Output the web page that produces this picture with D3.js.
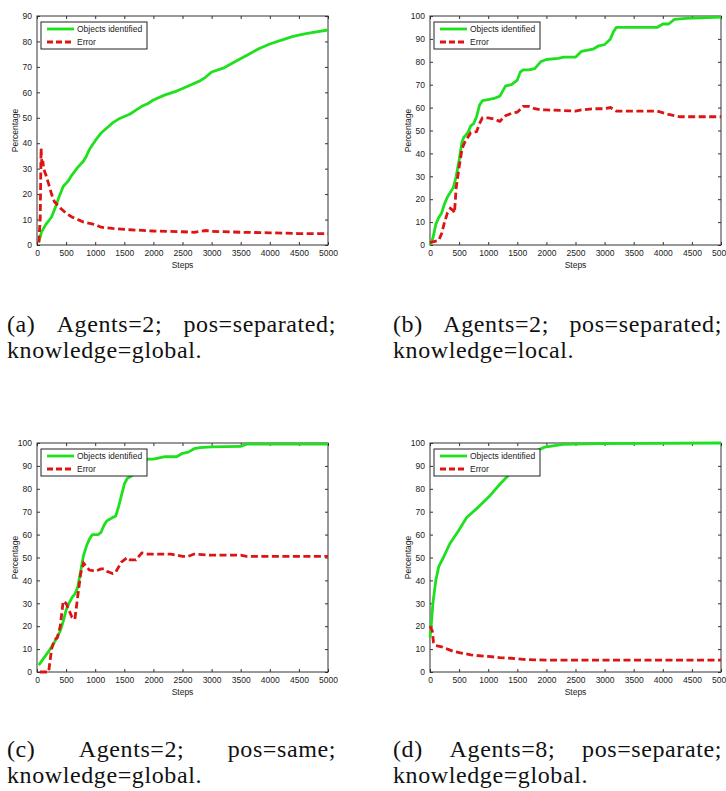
<!DOCTYPE html>
<html>
<head>
<meta charset="utf-8">
<script src="https://cdn.jsdelivr.net/npm/d3@7/dist/d3.min.js"></script>
<style>
  body { margin: 0; background: #fff; }
</style>
</head>
<body>
<div id="fig"></div>
<script>
// ---- data ----
const xTickValues = [0, 500, 1000, 1500, 2000, 2500, 3000, 3500, 4000, 4500, 5000];
const yTicks90 = [0, 10, 20, 30, 40, 50, 60, 70, 80, 90];
const yTicks100 = [0, 10, 20, 30, 40, 50, 60, 70, 80, 90, 100];
const seriesNames = ["Objects identified", "Error"];

// (a)
const aFoundSteps = [30, 75, 150, 250, 320, 380, 450, 530, 600, 700, 800, 850, 900, 1000, 1100, 1200, 1300, 1400, 1500, 1600, 1700, 1800, 1900, 2000, 2200, 2400, 2600, 2800, 2900, 3000, 3200, 3400, 3600, 3800, 4000, 4200, 4400, 4600, 4800, 5000];
const aFound = [1, 5, 8, 11, 15, 19, 23, 25, 27.5, 30.5, 33, 35, 37.5, 41, 44, 46, 48, 49.5, 50.5, 51.5, 53, 54.5, 55.5, 57, 59, 60.5, 62.5, 64.5, 66, 68, 69.5, 72, 74.5, 77, 79, 80.5, 82, 83, 83.8, 84.5];
const aErrSteps = [30, 55, 70, 85, 100, 115, 130, 160, 200, 250, 300, 400, 500, 600, 700, 800, 1000, 1100, 1300, 1600, 2000, 2500, 2700, 2900, 3000, 3500, 4000, 4500, 5000];
const aErr = [1, 10, 38, 31, 33, 30, 29, 27, 24, 20, 17, 14.5, 12.5, 11, 10, 9, 8, 7, 6.5, 6, 5.5, 5.2, 5, 5.7, 5.4, 5, 4.8, 4.5, 4.5];

// (b)
const bFoundSteps = [0, 50, 100, 150, 200, 250, 300, 350, 400, 450, 500, 550, 580, 650, 700, 750, 800, 850, 900, 1000, 1100, 1200, 1300, 1400, 1500, 1550, 1600, 1700, 1800, 1900, 2000, 2200, 2300, 2500, 2600, 2800, 2900, 3000, 3100, 3150, 3200, 3900, 4000, 4100, 4200, 4400, 5000];
const bFound = [0, 3, 9, 12, 14, 18, 21, 23, 25, 30, 37, 45, 47, 49, 52, 53, 56, 61, 63, 63.5, 64, 65, 69.5, 70, 72, 75.5, 76.5, 76.5, 77, 80, 81, 81.5, 82, 82, 84.5, 85.5, 87, 87.5, 90, 93, 95, 95, 96.5, 96.5, 98.5, 99, 99.5];
const bErrSteps = [0, 150, 200, 250, 300, 350, 400, 420, 450, 500, 550, 600, 700, 800, 850, 900, 1000, 1100, 1200, 1300, 1400, 1500, 1600, 1700, 1800, 1900, 2000, 2500, 2600, 2800, 3000, 3100, 3200, 3900, 4100, 4300, 5000];
const bErr = [1, 2, 5, 10, 14, 16, 15, 14, 25, 34, 42, 45, 49, 49.5, 53, 55.5, 55.5, 55, 54, 56.5, 57.5, 58, 60.5, 60.5, 59.5, 59, 59, 58.5, 59, 59.5, 59.5, 60, 58.5, 58.5, 57, 56, 56];

// (c)
const cFoundSteps = [30, 200, 300, 400, 450, 500, 550, 600, 650, 700, 750, 800, 850, 900, 950, 1050, 1100, 1150, 1200, 1300, 1350, 1400, 1450, 1500, 1550, 1650, 1700, 1800, 1900, 2000, 2100, 2200, 2400, 2500, 2600, 2700, 2800, 3000, 3500, 3600, 5000];
const cFound = [3, 9, 13, 18, 22, 27, 30, 32.5, 34, 37, 44, 51, 55, 58, 60, 60, 61, 64, 66, 67.5, 68, 72, 77, 82, 84.5, 86, 88, 91, 93, 93, 93.5, 94, 94, 95.5, 96, 97.5, 98, 98.3, 98.5, 99.5, 99.5];
const cErrSteps = [50, 200, 250, 300, 350, 400, 450, 500, 550, 600, 650, 700, 750, 800, 850, 900, 1000, 1100, 1150, 1200, 1300, 1350, 1450, 1550, 1600, 1700, 1800, 1900, 2000, 2300, 2500, 2600, 2700, 3000, 3500, 3600, 5000];
const cErr = [0, 0, 10, 14, 15, 20, 31, 30, 27, 24, 23, 33, 43, 47.5, 46, 44.5, 44, 45, 45, 44, 43, 43.5, 48, 50, 49, 49, 52, 51.5, 51.5, 51.5, 50.5, 50.5, 51.5, 51, 51, 50.5, 50.5];

// (d)
const dFoundSteps = [0, 20, 50, 100, 150, 230, 340, 490, 630, 830, 1030, 1200, 1370, 1550, 1720, 1970, 2290, 2860, 5000];
const dFound = [15, 20, 30, 40, 46, 50, 56, 61.7, 67.5, 72, 77, 82, 86.5, 91.7, 95.3, 98.2, 99.4, 99.7, 100];
const dErrSteps = [0, 40, 60, 100, 200, 300, 400, 500, 600, 700, 800, 1000, 1200, 1400, 1600, 1800, 2000, 5000];
const dErr = [20, 18, 13, 11.5, 11, 10, 9, 8.5, 8, 7.5, 7.2, 6.8, 6.3, 6, 5.5, 5.3, 5.2, 5.2];

const captionLines = [
  ["(a) Agents=2; pos=separated;", "knowledge=global."],
  ["(b) Agents=2; pos=separated;", "knowledge=local."],
  ["(c) Agents=2; pos=same;", "knowledge=global."],
  ["(d) Agents=8; pos=separate;", "knowledge=global."]
];

// ---- drawing ----
const W = 726, H = 791;
const svg = d3.select("#fig").append("svg").attr("width", W).attr("height", H);

const green = "#1ee01e";
const red = "#dc1414";
const axisColor = "#333";
const tickFont = "'Liberation Sans', Arial, sans-serif";

const panels = [
  { left: 37, top: 16, found: [aFoundSteps, aFound], err: [aErrSteps, aErr], yMax: 90, yTicks: yTicks90 },
  { left: 430, top: 16, found: [bFoundSteps, bFound], err: [bErrSteps, bErr], yMax: 100, yTicks: yTicks100 },
  { left: 37, top: 443, found: [cFoundSteps, cFound], err: [cErrSteps, cErr], yMax: 100, yTicks: yTicks100 },
  { left: 430, top: 443, found: [dFoundSteps, dFound], err: [dErrSteps, dErr], yMax: 100, yTicks: yTicks100 }
];
const pw = 291, ph = 229;

function zip(steps, vals) {
  return steps.map((s, i) => ({ step: s, value: vals[i] }));
}

panels.forEach((p, idx) => {
  const g = svg.append("g").attr("transform", `translate(${p.left},${p.top})`);
  const x = d3.scaleLinear().domain([0, 5000]).range([0, pw]);
  const y = d3.scaleLinear().domain([0, p.yMax]).range([ph, 0]);

  // axes, matlab style: ticks pointing in on all four sides
  const styleAxis = sel => {
    sel.select(".domain").remove();
    sel.selectAll("line").attr("stroke", axisColor);
    sel.selectAll("text").attr("fill", "#222").style("font-family", tickFont).style("font-size", "8.5px");
  };
  g.append("g").attr("transform", `translate(0,${ph})`)
    .call(d3.axisBottom(x).tickValues(xTickValues).tickSize(-3).tickPadding(5).tickFormat(d3.format("d")))
    .call(styleAxis);
  g.append("g")
    .call(d3.axisTop(x).tickValues(xTickValues).tickSize(-3).tickFormat(""))
    .call(styleAxis);
  g.append("g")
    .call(d3.axisLeft(y).tickValues(p.yTicks).tickSize(-3).tickPadding(5).tickFormat(d3.format("d")))
    .call(styleAxis);
  g.append("g").attr("transform", `translate(${pw},0)`)
    .call(d3.axisRight(y).tickValues(p.yTicks).tickSize(-3).tickFormat(""))
    .call(styleAxis);

  g.append("rect").attr("width", pw).attr("height", ph)
    .attr("fill", "none").attr("stroke", axisColor).attr("stroke-width", 1);

  const line = d3.line().x(d => x(d.step)).y(d => y(d.value));

  g.append("path").datum(zip(...p.found))
    .attr("d", line).attr("fill", "none")
    .attr("stroke", green).attr("stroke-width", 2.8).attr("stroke-linejoin", "round");
  g.append("path").datum(zip(...p.err))
    .attr("d", line).attr("fill", "none")
    .attr("stroke", red).attr("stroke-width", 2.8).attr("stroke-dasharray", "7,3.5");

  // axis titles
  g.append("text").attr("x", pw / 2).attr("y", ph + 23)
    .attr("text-anchor", "middle").attr("fill", "#222")
    .style("font-family", tickFont).style("font-size", "8.5px").text("Steps");
  g.append("text").attr("transform", `translate(-19,${ph / 2}) rotate(-90)`)
    .attr("text-anchor", "middle").attr("fill", "#222")
    .style("font-family", tickFont).style("font-size", "8.5px").text("Percentage");

  // legend
  const lg = g.append("g").attr("transform", "translate(4,6)");
  lg.append("rect").attr("width", 106).attr("height", 27)
    .attr("fill", "#fff").attr("stroke", "#222").attr("stroke-width", 1);
  seriesNames.forEach((name, i) => {
    const ly = 7 + i * 13;
    lg.append("line").attr("x1", 6).attr("x2", 33).attr("y1", ly).attr("y2", ly)
      .attr("stroke", i === 0 ? green : red).attr("stroke-width", 2.8)
      .attr("stroke-dasharray", i === 0 ? null : "6,3");
    lg.append("text").attr("x", 36).attr("y", ly + 3).attr("fill", "#222")
      .style("font-family", tickFont).style("font-size", "8.5px").text(name);
  });
});

// captions, first line justified like the LaTeX source
const capFont = "'Liberation Serif', 'DejaVu Serif', serif";
const capSize = "24px";
const capSpacing = "0.6px";
const capWidth = 329;
const capPos = [[7, 332], [393, 332], [7, 757], [393, 757]];

function capText(sel) {
  return sel.attr("fill", "#111")
    .style("font-family", capFont).style("font-size", capSize).style("letter-spacing", capSpacing);
}

captionLines.forEach((lines, i) => {
  const [cx, cy] = capPos[i];
  const words = lines[0].split(" ");
  const tmp = words.map(w => capText(svg.append("text")).text(w));
  const widths = tmp.map(t => t.node().getComputedTextLength());
  tmp.forEach(t => t.remove());
  const gap = (capWidth - d3.sum(widths)) / (words.length - 1);
  let xx = cx;
  words.forEach((w, j) => {
    capText(svg.append("text").attr("x", xx).attr("y", cy)).text(w);
    xx += widths[j] + gap;
  });
  capText(svg.append("text").attr("x", cx).attr("y", cy + 26)).text(lines[1]);
});
</script>
</body>
</html>
